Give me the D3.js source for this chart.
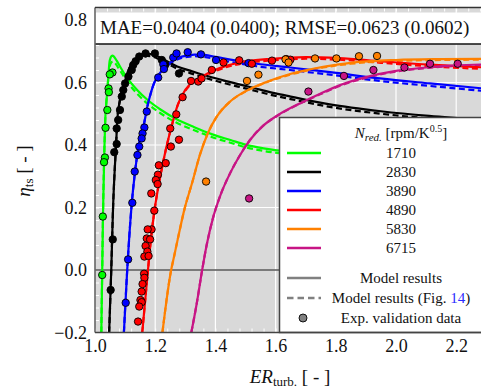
<!DOCTYPE html>
<html>
<head>
<meta charset="utf-8">
<script src="https://cdn.jsdelivr.net/npm/d3@7/dist/d3.min.js"></script>
<style>
  html, body { margin: 0; padding: 0; background: #fff; }
  svg { display: block; font-family: "Liberation Serif", "DejaVu Serif", serif; }
</style>
</head>
<body>
<svg id="chart" width="481" height="390"></svg>
<script>
// Reduced speeds [rpm/K^0.5]
const speeds = ["1710", "2830", "3890", "4890", "5830", "6715"];
const colors = ["#00ff00", "#000000", "#0000ff", "#ff0000", "#ff8000", "#c71585"];

// Model results, [ER, eta]
const model1710 = [[1.021,-0.2],[1.024,0],[1.027,0.2],[1.031,0.38],[1.034,0.48],[1.038,0.54],[1.041,0.576],[1.045,0.629],[1.048,0.664],[1.052,0.68],[1.057,0.686],[1.063,0.683],[1.072,0.67],[1.085,0.648],[1.105,0.617],[1.14,0.576],[1.175,0.544],[1.22,0.512],[1.27,0.483],[1.33,0.457],[1.39,0.434],[1.45,0.416],[1.50,0.401],[1.56,0.389],[1.65,0.378]];
const model2830 = [[1.047,-0.2],[1.054,0],[1.060,0.2],[1.066,0.33],[1.070,0.4],[1.074,0.48],[1.082,0.54],[1.091,0.576],[1.100,0.605],[1.107,0.629],[1.115,0.648],[1.124,0.661],[1.14,0.678],[1.155,0.687],[1.174,0.692],[1.195,0.689],[1.218,0.679],[1.245,0.665],[1.273,0.651],[1.316,0.638],[1.362,0.624],[1.426,0.607],[1.5,0.589],[1.537,0.58],[1.6,0.565],[1.65,0.555],[1.78,0.53],[1.95,0.508],[2.11,0.493],[2.3,0.48]];
const model3890 = [[1.096,-0.2],[1.107,0],[1.121,0.2],[1.133,0.315],[1.143,0.384],[1.152,0.43],[1.163,0.469],[1.174,0.523],[1.185,0.565],[1.196,0.597],[1.21,0.622],[1.224,0.64],[1.243,0.658],[1.262,0.672],[1.285,0.682],[1.307,0.686],[1.33,0.689],[1.351,0.689],[1.4,0.682],[1.45,0.673],[1.537,0.66],[1.648,0.648],[1.781,0.633],[1.947,0.613],[2.113,0.597],[2.3,0.58]];
const model4890 = [[1.157,-0.2],[1.176,0],[1.186,0.1],[1.199,0.2],[1.215,0.29],[1.235,0.384],[1.257,0.469],[1.273,0.523],[1.29,0.56],[1.316,0.595],[1.35,0.615],[1.38,0.632],[1.426,0.65],[1.48,0.664],[1.59,0.676],[1.7,0.681],[1.81,0.678],[1.95,0.668],[2.11,0.657],[2.3,0.648]];
const model5830 = [[1.224,-0.2],[1.253,0],[1.262,0.04],[1.279,0.117],[1.296,0.19],[1.323,0.28],[1.349,0.37],[1.376,0.44],[1.404,0.49],[1.45,0.54],[1.5,0.572],[1.56,0.598],[1.648,0.627],[1.758,0.65],[1.85,0.663],[2.0,0.672],[2.15,0.675],[2.3,0.676]];
const model6715 = [[1.32,-0.2],[1.338,-0.107],[1.356,0],[1.371,0.08],[1.393,0.17],[1.415,0.235],[1.449,0.31],[1.482,0.368],[1.515,0.416],[1.559,0.462],[1.61,0.497],[1.68,0.533],[1.75,0.565],[1.81,0.59],[1.9,0.617],[2.0,0.637],[2.11,0.649],[2.2,0.655],[2.3,0.658]];

// Model results (Fig. 14), [ER, eta]
const ref1710 = [[1.021,-0.2],[1.024,0],[1.027,0.2],[1.031,0.38],[1.034,0.48],[1.038,0.54],[1.041,0.574],[1.045,0.622],[1.049,0.652],[1.054,0.664],[1.06,0.667],[1.068,0.661],[1.078,0.646],[1.09,0.628],[1.11,0.599],[1.14,0.564],[1.175,0.532],[1.22,0.5],[1.27,0.472],[1.33,0.447],[1.39,0.425],[1.45,0.407],[1.50,0.393],[1.56,0.381],[1.65,0.37]];
const ref2830 = [[1.047,-0.2],[1.054,0],[1.060,0.2],[1.066,0.33],[1.070,0.4],[1.074,0.48],[1.082,0.538],[1.091,0.572],[1.100,0.6],[1.107,0.622],[1.115,0.641],[1.124,0.654],[1.14,0.671],[1.155,0.68],[1.174,0.685],[1.195,0.682],[1.218,0.672],[1.245,0.658],[1.273,0.644],[1.316,0.63],[1.362,0.616],[1.426,0.599],[1.5,0.581],[1.537,0.572],[1.6,0.557],[1.65,0.547],[1.78,0.522],[1.95,0.5],[2.11,0.485],[2.3,0.472]];
const ref3890 = [[1.096,-0.2],[1.107,0],[1.121,0.2],[1.133,0.315],[1.143,0.384],[1.152,0.43],[1.163,0.469],[1.174,0.523],[1.185,0.565],[1.196,0.597],[1.21,0.622],[1.224,0.64],[1.243,0.656],[1.262,0.669],[1.285,0.678],[1.307,0.682],[1.33,0.684],[1.351,0.683],[1.4,0.676],[1.45,0.666],[1.537,0.652],[1.648,0.64],[1.781,0.625],[1.947,0.605],[2.113,0.589],[2.3,0.572]];
const ref4890 = [[1.157,-0.2],[1.176,0],[1.186,0.1],[1.199,0.2],[1.215,0.29],[1.235,0.384],[1.257,0.469],[1.273,0.523],[1.29,0.558],[1.316,0.592],[1.35,0.612],[1.38,0.628],[1.426,0.646],[1.48,0.659],[1.59,0.671],[1.7,0.676],[1.81,0.673],[1.95,0.663],[2.11,0.652],[2.3,0.643]];
const ref5830 = [[1.224,-0.2],[1.253,0],[1.262,0.04],[1.279,0.117],[1.296,0.19],[1.323,0.28],[1.349,0.37],[1.376,0.44],[1.404,0.49],[1.45,0.54],[1.5,0.571],[1.56,0.597],[1.648,0.625],[1.758,0.648],[1.85,0.66],[2.0,0.669],[2.15,0.672],[2.3,0.673]];
const ref6715 = [[1.32,-0.2],[1.338,-0.107],[1.356,0],[1.371,0.08],[1.393,0.17],[1.415,0.235],[1.449,0.31],[1.482,0.368],[1.515,0.416],[1.559,0.462],[1.61,0.496],[1.68,0.532],[1.75,0.563],[1.81,0.588],[1.9,0.615],[2.0,0.635],[2.11,0.647],[2.2,0.653],[2.3,0.656]];

// Experimental validation data, [ER, eta]
const exp1710 = [[1.058,0.632],[1.049,0.626],[1.045,0.581],[1.046,0.569],[1.041,0.512],[1.035,0.455],[1.033,0.36],[1.030,0.345],[1.026,0.171],[1.024,-0.016]];
const exp2830 = [[1.168,0.693],[1.199,0.693],[1.222,0.672],[1.233,0.656],[1.279,0.629],[1.147,0.683],[1.135,0.668],[1.127,0.656],[1.122,0.64],[1.111,0.619],[1.10,0.597],[1.094,0.576],[1.089,0.555],[1.083,0.512],[1.077,0.48],[1.072,0.453],[1.072,0.403],[1.064,0.377],[1.059,0.098],[1.052,-0.064]];
const exp3890 = [[1.26,0.68],[1.271,0.693],[1.308,0.697],[1.352,0.69],[1.402,0.672],[1.51,0.662],[1.227,0.658],[1.229,0.643],[1.21,0.616],[1.172,0.507],[1.164,0.456],[1.158,0.437],[1.155,0.421],[1.147,0.395],[1.141,0.368],[1.132,0.315],[1.124,0.215],[1.11,0.034],[1.102,-0.105]];
const exp4890 = [[1.319,0.605],[1.343,0.603],[1.354,0.613],[1.388,0.64],[1.427,0.664],[1.479,0.671],[1.521,0.66],[1.588,0.67],[1.635,0.675],[1.649,0.673],[1.291,0.553],[1.27,0.498],[1.25,0.453],[1.279,0.417],[1.252,0.395],[1.235,0.342],[1.212,0.335],[1.209,0.305],[1.202,0.288],[1.208,0.275],[1.187,0.245],[1.197,0.19],[1.188,0.13],[1.175,0.13],[1.172,0.101],[1.183,0.098],[1.168,0.077],[1.174,0.059],[1.164,0.043],[1.178,0.045],[1.163,-0.012],[1.164,-0.025],[1.158,-0.045],[1.155,-0.069],[1.151,-0.096],[1.155,-0.103],[1.147,-0.117],[1.143,-0.165]];
const exp5830 = [[1.369,0.283],[1.505,0.605],[1.543,0.625],[1.633,0.674],[1.643,0.664],[1.731,0.677],[1.802,0.677],[1.877,0.684],[1.937,0.685]];
const exp6715 = [[1.512,0.229],[1.709,0.571],[1.827,0.621],[1.925,0.64],[2.028,0.648],[2.113,0.66],[2.205,0.66]];

const xTicks = [1.0, 1.2, 1.4, 1.6, 1.8, 2.0, 2.2];
const yTicks = [-0.2, 0.0, 0.2, 0.4, 0.6, 0.8];
const scoreText = "MAE=0.0404 (0.0400); RMSE=0.0623 (0.0602)";

const models = [model1710, model2830, model3890, model4890, model5830, model6715];
const refs = [ref1710, ref2830, ref3890, ref4890, ref5830, ref6715];
const exps = [exp1710, exp2830, exp3890, exp4890, exp5830, exp6715];

const svg = d3.select("#chart");
const L = 95, T = 7.5, B = 332.5, R = 481;
const x = d3.scaleLinear().domain([1.0, 2.3]).range([L, L + 1.3 * 301]);
const y = d3.scaleLinear().domain([-0.2, 0.84]).range([B, T]);

svg.append("defs").append("clipPath").attr("id", "plotclip")
  .append("rect").attr("x", L).attr("y", T).attr("width", R - L + 20).attr("height", B - T);

// plot background
svg.append("rect").attr("x", L).attr("y", T).attr("width", R - L + 20).attr("height", B - T)
  .attr("fill", "#d9d9d9");

// grid
const grid = svg.append("g").attr("clip-path", "url(#plotclip)");
grid.selectAll("line.gx").data(xTicks.slice(1)).join("line")
  .attr("x1", d => x(d)).attr("x2", d => x(d)).attr("y1", T).attr("y2", B)
  .attr("stroke", "#fff").attr("stroke-width", 1.2);
grid.selectAll("line.gy").data(yTicks.slice(1)).join("line")
  .attr("x1", L).attr("x2", R + 20).attr("y1", d => y(d)).attr("y2", d => y(d))
  .attr("stroke", "#fff").attr("stroke-width", 1.2);

// minor ticks, pointing inward
const xMinor = d3.range(1.0, 2.31, 0.04);
const yMinor = d3.range(-0.2, 0.841, 0.04);
function styleMinor(g) {
  g.select(".domain").remove();
  g.selectAll(".tick line").attr("stroke", "#fff").attr("stroke-width", 1);
}
svg.append("g").attr("transform", `translate(0,${B})`)
  .call(d3.axisBottom(x).tickValues(xMinor).tickSize(-4).tickFormat("")).call(styleMinor);
svg.append("g").attr("transform", `translate(0,${T})`)
  .call(d3.axisTop(x).tickValues(xMinor).tickSize(-4).tickFormat("")).call(styleMinor);
svg.append("g").attr("transform", `translate(${L},0)`)
  .call(d3.axisLeft(y).tickValues(yMinor).tickSize(-4).tickFormat("")).call(styleMinor);

// zero line
svg.append("line").attr("x1", L).attr("x2", R).attr("y1", y(0)).attr("y2", y(0))
  .attr("stroke", "#555").attr("stroke-width", 1.4);

// curves
const plot = svg.append("g").attr("clip-path", "url(#plotclip)");
const line = d3.line().x(d => x(d[0])).y(d => y(d[1])).curve(d3.curveMonotoneX);
refs.forEach((r, i) => {
  plot.append("path").attr("d", line(r)).attr("fill", "none")
    .attr("stroke", colors[i]).attr("stroke-width", 2.2).attr("stroke-dasharray", "6,3.5");
});
models.forEach((m, i) => {
  plot.append("path").attr("d", line(m)).attr("fill", "none")
    .attr("stroke", colors[i]).attr("stroke-width", 2.2);
});
exps.forEach((e, i) => {
  plot.selectAll(null).data(e).join("circle")
    .attr("cx", d => x(d[0])).attr("cy", d => y(d[1])).attr("r", 3.7)
    .attr("fill", colors[i]).attr("stroke", "#000").attr("stroke-width", 0.9);
});

// score box
svg.append("rect").attr("x", L).attr("y", 12.5).attr("width", R - L + 10).attr("height", 31.5)
  .attr("fill", "#fff");
svg.append("line").attr("x1", L).attr("x2", R).attr("y1", 44).attr("y2", 44)
  .attr("stroke", "#111").attr("stroke-width", 1.6);
svg.append("text").attr("x", 100).attr("y", 34).attr("font-size", 19).attr("fill", "#111")
  .text(scoreText);

// legend
const lg = svg.append("g");
lg.append("rect").attr("x", 279.5).attr("y", 117.5).attr("width", 220).attr("height", B - 117.5)
  .attr("fill", "#fff").attr("stroke", "#444").attr("stroke-width", 1.5);
const lx = 401;
const title = lg.append("text").attr("x", lx).attr("y", 138).attr("text-anchor", "middle")
  .attr("font-size", 15).attr("fill", "#111");
title.append("tspan").attr("font-style", "italic").text("N");
title.append("tspan").attr("font-style", "italic").attr("font-size", 11).attr("dy", 3).text("red.");
title.append("tspan").attr("dy", -3).text(" [rpm/K");
title.append("tspan").attr("font-size", 10).attr("dy", -6).text("0.5");
title.append("tspan").attr("dy", 6).text("]");

speeds.forEach((s, i) => {
  const yy = 153 + i * 19;
  lg.append("line").attr("x1", 287).attr("x2", 321).attr("y1", yy).attr("y2", yy)
    .attr("stroke", colors[i]).attr("stroke-width", 2.4);
  lg.append("text").attr("x", lx).attr("y", yy + 5).attr("text-anchor", "middle")
    .attr("font-size", 15).attr("fill", "#111").text(s);
});
const ly1 = 278, ly2 = 298, ly3 = 318;
lg.append("line").attr("x1", 287).attr("x2", 321).attr("y1", ly1).attr("y2", ly1)
  .attr("stroke", "#808080").attr("stroke-width", 2.4);
lg.append("text").attr("x", lx).attr("y", ly1 + 5).attr("text-anchor", "middle")
  .attr("font-size", 15).attr("fill", "#111").text("Model results");
lg.append("line").attr("x1", 287).attr("x2", 321).attr("y1", ly2).attr("y2", ly2)
  .attr("stroke", "#808080").attr("stroke-width", 2.4).attr("stroke-dasharray", "6.5,4");
const t2 = lg.append("text").attr("x", lx).attr("y", ly2 + 5).attr("text-anchor", "middle")
  .attr("font-size", 15).attr("fill", "#111");
t2.append("tspan").text("Model results (Fig. ");
t2.append("tspan").attr("fill", "#2a2aff").text("14");
t2.append("tspan").text(")");
lg.append("circle").attr("cx", 303).attr("cy", ly3).attr("r", 4)
  .attr("fill", "#808080").attr("stroke", "#000").attr("stroke-width", 0.9);
lg.append("text").attr("x", lx).attr("y", ly3 + 5).attr("text-anchor", "middle")
  .attr("font-size", 15).attr("fill", "#111").text("Exp. validation data");

// spines
svg.append("line").attr("x1", L).attr("x2", L).attr("y1", T).attr("y2", B)
  .attr("stroke", "#666").attr("stroke-width", 1.6);
svg.append("line").attr("x1", L).attr("x2", R).attr("y1", B).attr("y2", B)
  .attr("stroke", "#444").attr("stroke-width", 1.6);
svg.append("line").attr("x1", L).attr("x2", R).attr("y1", T).attr("y2", T)
  .attr("stroke", "#333").attr("stroke-width", 1.6);

// tick labels
const fmt = d3.format(".1f");
const xAx = svg.append("g").attr("transform", `translate(0,${B})`)
  .call(d3.axisBottom(x).tickValues(xTicks).tickSize(0).tickPadding(7).tickFormat(fmt));
const yAx = svg.append("g").attr("transform", `translate(${L},0)`)
  .call(d3.axisLeft(y).tickValues(yTicks).tickSize(0).tickPadding(8).tickFormat(fmt));
[xAx, yAx].forEach(g => {
  g.select(".domain").remove();
  g.selectAll("text").attr("font-size", 18).attr("font-family", "Liberation Serif, serif").attr("fill", "#111");
});

// axis titles
const xl = svg.append("text").attr("x", 290).attr("y", 383).attr("text-anchor", "middle")
  .attr("font-size", 19).attr("fill", "#111");
xl.append("tspan").attr("font-style", "italic").text("ER");
xl.append("tspan").attr("font-size", 13).attr("dy", 3).text("turb.");
xl.append("tspan").attr("dy", -3).text(" [ - ]");

const yl = svg.append("text").attr("transform", "translate(30,171) rotate(-90)")
  .attr("text-anchor", "middle").attr("font-size", 19).attr("fill", "#111");
yl.append("tspan").attr("font-style", "italic").text("η");
yl.append("tspan").attr("font-size", 13).attr("dy", 3).text("ts");
yl.append("tspan").attr("dy", -3).text(" [ - ]");
</script>
</body>
</html>
